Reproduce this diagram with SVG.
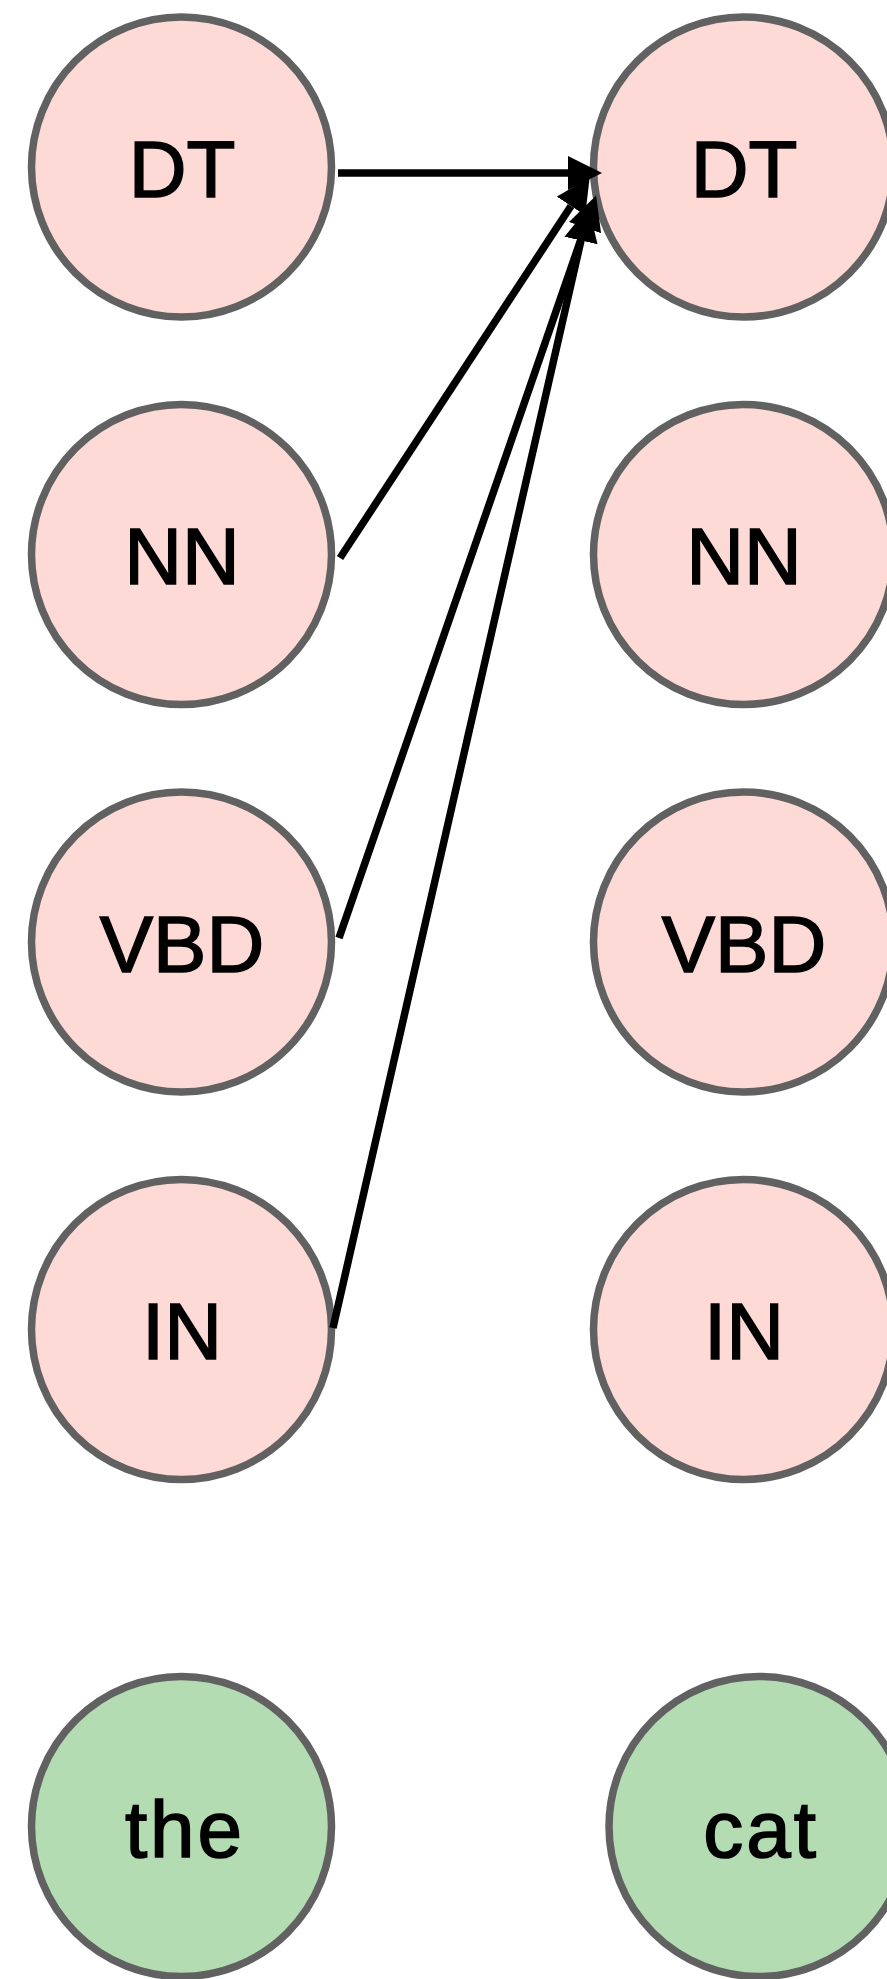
<svg xmlns="http://www.w3.org/2000/svg" width="887" height="1979" viewBox="0 0 887 1979">
<style>
.pos{fill:#fddad6;stroke:#616161;stroke-width:7.5}
.word{fill:#b3dcb3;stroke:#616161;stroke-width:7.5}
.lbl{font-family:"Liberation Sans",Arial,sans-serif;font-size:80px;fill:#000;stroke:#000;stroke-width:1.6;text-anchor:middle}
.edge{stroke:#000;stroke-width:7.5;fill:none}
</style>
<defs>
<marker id="arr" markerUnits="userSpaceOnUse" markerWidth="34" markerHeight="34" refX="0" refY="17" orient="auto" viewBox="0 0 34 34">
<path d="M0,0 L34,17 L0,34 z" fill="#000"/>
</marker>
</defs>
<rect width="887" height="1979" fill="#fff"/>
<g id="n-dt-l"><circle class="pos" cx="181.5" cy="167" r="150"/><text class="lbl" x="182" y="196.5">DT</text></g>
<g id="n-nn-l"><circle class="pos" cx="181.5" cy="554.5" r="150"/><text class="lbl" x="182" y="584">NN</text></g>
<g id="n-vbd-l"><circle class="pos" cx="181.5" cy="942" r="150"/><text class="lbl" x="182" y="971.5">VBD</text></g>
<g id="n-in-l"><circle class="pos" cx="181.5" cy="1329.5" r="150"/><text class="lbl" x="182" y="1359">IN</text></g>
<g id="n-dt-r"><circle class="pos" cx="743.5" cy="167" r="150"/><text class="lbl" x="744" y="196.5">DT</text></g>
<g id="n-nn-r"><circle class="pos" cx="743.5" cy="554.5" r="150"/><text class="lbl" x="744" y="584">NN</text></g>
<g id="n-vbd-r"><circle class="pos" cx="743.5" cy="942" r="150"/><text class="lbl" x="744" y="971.5">VBD</text></g>
<g id="n-in-r"><circle class="pos" cx="743.5" cy="1329.5" r="150"/><text class="lbl" x="744" y="1359">IN</text></g>
<g id="n-the"><circle class="word" cx="181.5" cy="1826.5" r="150"/><text class="lbl" x="185" y="1857" letter-spacing="3">the</text></g>
<g id="n-cat"><circle class="word" cx="759" cy="1826.5" r="150"/><text class="lbl" x="761" y="1857" letter-spacing="3">cat</text></g>
<g id="edges">
<line class="edge" x1="338" y1="173" x2="568" y2="173" marker-end="url(#arr)"/>
<line class="edge" x1="340" y1="558" x2="571" y2="206" marker-end="url(#arr)"/>
<line class="edge" x1="339" y1="938" x2="585" y2="227.6" marker-end="url(#arr)"/>
<line class="edge" x1="333" y1="1328" x2="581" y2="240.5" marker-end="url(#arr)"/>
</g>
</svg>
